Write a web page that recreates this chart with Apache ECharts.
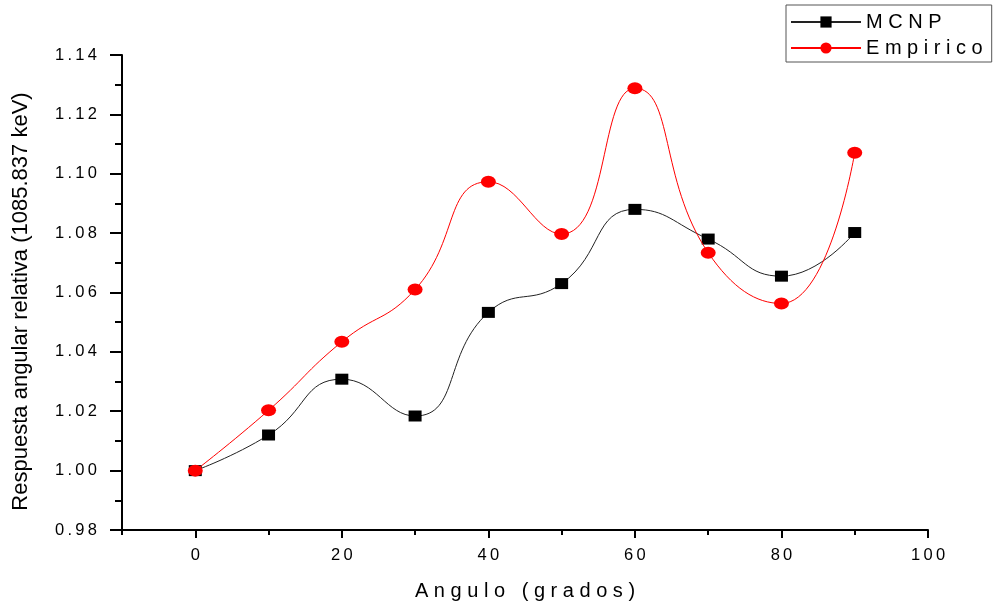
<!DOCTYPE html>
<html>
<head>
<meta charset="utf-8">
<script src="https://cdn.jsdelivr.net/npm/echarts@6/dist/echarts.min.js"></script>
<style>
  html, body { margin: 0; padding: 0; background: #fff; }
  #chart { width: 995px; height: 606px; }
</style>
</head>
<body>
<div id="chart"></div>
<script>
// Angles (degrees) at which the detector response was evaluated
const angles = [0, 10, 20, 30, 40, 50, 60, 70, 80, 90];
// Relative angular response at 1085.837 keV
const mcnp = [1.000, 1.012, 1.0308, 1.0184, 1.0533, 1.0630, 1.0880, 1.0780, 1.0655, 1.0802];
const empirico = [1.000, 1.0203, 1.0434, 1.0610, 1.0973, 1.0797, 1.1288, 1.0734, 1.0563, 1.1071];
// Major tick labels on the angle axis
const xMajorTicks = [0, 20, 40, 60, 80, 100];

const FONT = 'Liberation Sans, Arial, sans-serif';
const spaced = s => String(s).split('').join('\u2009');

const chart = echarts.init(document.getElementById('chart'), null, { renderer: 'canvas' });

const pair = arr => angles.map((a, i) => [a, arr[i]]);

chart.setOption({
  animation: false,
  backgroundColor: '#fff',
  grid: { left: 122, right: 67, top: 55, bottom: 76, containLabel: false },
  legend: {
    left: 786, top: 5,
    orient: 'vertical',
    padding: [7, 9, 4, 4],
    itemWidth: 70, itemHeight: 14, itemGap: 6,
    borderColor: '#555', borderWidth: 1,
    textStyle: { fontFamily: FONT, fontSize: 20, color: '#000' },
    formatter: name => name.split('').join(' '),
    data: ['MCNP', 'Empirico']
  },
  xAxis: [
    {
      // minor ticks every 10 degrees, plus the axis line
      type: 'value', min: -10, max: 100, interval: 10, position: 'bottom',
      axisLine: { show: true, onZero: false, lineStyle: { color: '#000', width: 2 } },
      axisTick: { show: true, length: 5, lineStyle: { color: '#000', width: 2 } },
      axisLabel: { show: false },
      splitLine: { show: false }
    },
    {
      // major ticks and labels
      type: 'value', min: -10, max: 100, position: 'bottom',
      axisLine: { show: false, onZero: false },
      axisTick: { show: true, length: 8, customValues: xMajorTicks, lineStyle: { color: '#000', width: 2 } },
      axisLabel: {
        show: true, customValues: xMajorTicks, margin: 17,
        fontFamily: FONT, fontSize: 16.5, color: '#000',
        formatter: v => spaced(v)
      },
      splitLine: { show: false },
      name: 'Angulo (grados)'.split('').join(' '),
      nameLocation: 'middle', nameGap: 51,
      nameTextStyle: { fontFamily: FONT, fontSize: 20, color: '#000' }
    }
  ],
  yAxis: {
    type: 'value', min: 0.98, max: 1.14, interval: 0.02,
    axisLine: { show: true, onZero: false, lineStyle: { color: '#000', width: 2 } },
    axisTick: { show: true, length: 12, lineStyle: { color: '#000', width: 2 } },
    minorTick: { show: true, splitNumber: 2, length: 7, lineStyle: { color: '#000', width: 2 } },
    axisLabel: {
      margin: 25, fontFamily: FONT, fontSize: 16.5, color: '#000',
      formatter: v => spaced(v.toFixed(2))
    },
    splitLine: { show: false },
    minorSplitLine: { show: false },
    name: 'Respuesta angular relativa (1085.837 keV)',
    nameLocation: 'middle', nameGap: 90,
    nameTextStyle: { fontFamily: FONT, fontSize: 22, color: '#000', padding: [0, 18, 0, 0] }
  },
  series: [
    {
      name: 'MCNP', type: 'line', xAxisIndex: 0,
      data: pair(mcnp), smooth: 0.5,
      symbol: 'rect', symbolSize: [13, 11],
      lineStyle: { color: '#222', width: 1 },
      itemStyle: { color: '#000' },
      z: 3
    },
    {
      name: 'Empirico', type: 'line', xAxisIndex: 0,
      data: pair(empirico), smooth: 0.5,
      symbol: 'path://M0,5a7,5 0 1,0 14,0a7,5 0 1,0 -14,0z', symbolSize: [15, 12],
      lineStyle: { color: '#ff0000', width: 1 },
      itemStyle: { color: '#ff0000' },
      z: 4
    }
  ]
});
</script>
</body>
</html>
